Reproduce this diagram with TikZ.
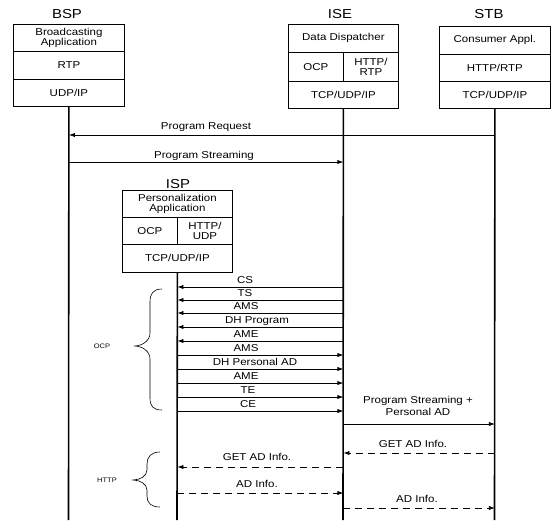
\documentclass[tikz,border=0pt]{standalone}
\usepackage{fontspec}
\setmainfont{Liberation Sans}[FakeStretch=1.15]
\usetikzlibrary{arrows.meta}
\begin{document}
\begin{tikzpicture}[x=1pt,y=-1pt,
  cell/.style={draw, line width=0.8pt, inner sep=0pt, align=center, anchor=north west, font=\fontsize{10}{10.5}\selectfont},
  title/.style={font=\fontsize{13}{14}\selectfont, inner sep=0pt, anchor=base},
  lifeline/.style={line width=1.6pt},
  msg/.style={line width=0.7pt, -{Latex[length=6pt,width=4.2pt]}},
  dmsg/.style={msg, dash pattern=on 7pt off 5pt},
  lbl/.style={font=\fontsize{10}{12}\selectfont, inner sep=0pt, anchor=base},
  bracepath/.style={line width=0.6pt},
  small/.style={font=\fontsize{6.5}{7}\selectfont, inner sep=0pt}]
\useasboundingbox (0,0) rectangle (554,524);

% BSP
\node[title] (bspT) at (67,18.5) {BSP};
\node[cell, minimum width=111pt, minimum height=27pt] (bspA) at (13,24) {Broadcasting\\Application};
\node[cell, minimum width=111pt, minimum height=28pt] (bspB) at (13,51) {RTP};
\node[cell, minimum width=111pt, minimum height=27pt] (bspC) at (13,79) {UDP/IP};

% ISE
\node[title] (iseT) at (340,18.5) {ISE};
\node[cell, minimum width=110pt, minimum height=28pt] (iseA) at (288,24) {Data Dispatcher};
\node[cell, minimum width=55pt, minimum height=29pt] (iseB1) at (288,52) {OCP};
\node[cell, minimum width=55pt, minimum height=29pt] (iseB2) at (343,52) {HTTP/\\RTP};
\node[cell, minimum width=110pt, minimum height=27pt] (iseC) at (288,81) {TCP/UDP/IP};

% STB
\node[title] (stbT) at (489,18.5) {STB};
\node[cell, minimum width=111pt, minimum height=28pt] (stbA) at (439,26) {Consumer Appl.};
\node[cell, minimum width=111pt, minimum height=27pt] (stbB) at (439,54) {HTTP/RTP};
\node[cell, minimum width=111pt, minimum height=27pt] (stbC) at (439,81) {TCP/UDP/IP};

% ISP
\node[title] (ispT) at (178,188) {ISP};
\node[cell, minimum width=110pt, minimum height=27pt] (ispA) at (122,190) {Personalization\\Application};
\node[cell, minimum width=55pt, minimum height=27pt] (ispB1) at (122,217) {OCP};
\node[cell, minimum width=55pt, minimum height=27pt] (ispB2) at (177,217) {HTTP/\\UDP};
\node[cell, minimum width=110pt, minimum height=28pt] (ispC) at (122,244) {TCP/UDP/IP};

% lifelines
\coordinate (bspEnd) at (68.5,520);
\coordinate (iseEnd) at (343,520);
\coordinate (stbEnd) at (494.5,520);
\coordinate (ispEnd) at (177,520);
\draw[lifeline] (bspC.south) -- (bspEnd);
\draw[lifeline] (iseC.south) -- (iseEnd);
\draw[lifeline] (stbC.south) -- (stbEnd);
\draw[lifeline] (ispC.south) -- (ispEnd);

% top messages
\draw[msg] (stbC.south |- 0,135) -- (bspC.south |- 0,135);
\node[lbl] (lPR) at (206,129) {Program Request};
\draw[msg] (bspC.south |- 0,162) -- (iseC.south |- 0,162);
\node[lbl] (lPS) at (204,158) {Program Streaming};

% OCP exchange
\foreach \y/\t/\lx in {287/CS/245, 300/TS/245, 313/AMS/246, 327/DH Program/257, 341/AME/246} {
  \draw[msg] (iseC.south |- 0,\y) -- (ispC.south |- 0,\y);
  \node[lbl] (l\y) at (\lx,\y-3.5) {\t};
}
\foreach \y/\t/\lx in {355/AMS/246, 369/DH Personal AD/255, 383/AME/246, 397/TE/248, 411/CE/248} {
  \draw[msg] (ispC.south |- 0,\y) -- (iseC.south |- 0,\y);
  \node[lbl] (l\y) at (\lx,\y-3.5) {\t};
}

% streaming to STB
\node[lbl, anchor=center, align=center] (lPSPA) at (418,406) {Program Streaming +\\Personal AD};
\draw[msg] (iseC.south |- 0,424) -- (stbC.south |- 0,424);

% HTTP exchange
\draw[dmsg] (stbC.south |- 0,453) -- (iseC.south |- 0,453);
\node[lbl] (lG1) at (413,447) {GET AD Info.};
\draw[dmsg] (iseC.south |- 0,467) -- (ispC.south |- 0,467);
\node[lbl] (lG2) at (257,460) {GET AD Info.};
\draw[dmsg] (ispC.south |- 0,493) -- (iseC.south |- 0,493);
\node[lbl] (lA1) at (257,487) {AD Info.};
\draw[dmsg] (iseC.south |- 0,508) -- (stbC.south |- 0,508);
\node[lbl] (lA2) at (417,502) {AD Info.};

% braces
\draw[bracepath] (162,289) .. controls (153,289) and (150,294) .. (150,302) -- (150,333)
  .. controls (150,341) and (142,346) .. (134,346)
  .. controls (142,346) and (150,351) .. (150,359) -- (150,398)
  .. controls (150,406) and (153,410) .. (162,410);
\node[small] (ocpLbl) at (102,346) {OCP};
\draw[bracepath] (160,452) .. controls (151,452) and (147,457) .. (147,464) -- (147,470)
  .. controls (147,476) and (140,480) .. (133,480)
  .. controls (140,480) and (147,484) .. (147,490) -- (147,496)
  .. controls (147,503) and (151,507) .. (160,507);
\node[small] (httpLbl) at (107,480) {HTTP};
\end{tikzpicture}
\end{document}
